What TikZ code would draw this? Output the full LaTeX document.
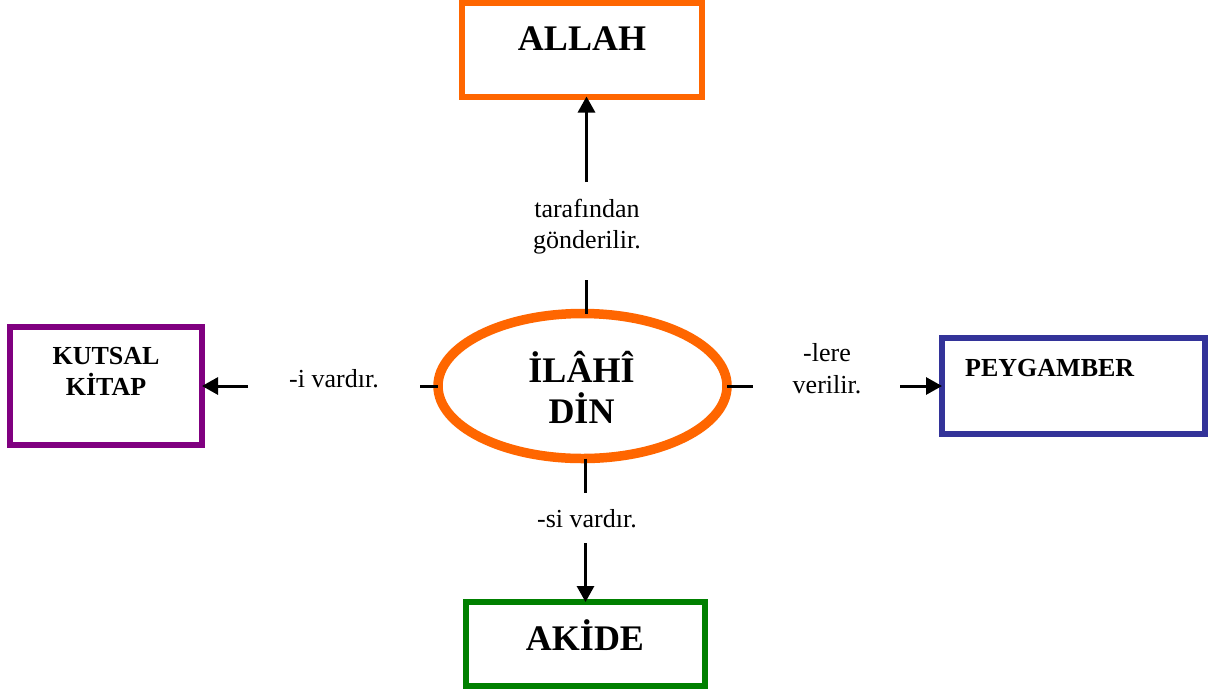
\documentclass[tikz,border=0pt]{standalone}
\usepackage{fontspec}
\setmainfont{Liberation Serif}
\usetikzlibrary{shapes.geometric,arrows.meta}
\definecolor{corange}{HTML}{FF6600}
\definecolor{cpurple}{HTML}{800080}
\definecolor{cblue}{HTML}{333399}
\definecolor{cgreen}{HTML}{008000}
\tikzset{
  boxshape/.style={draw, rectangle, line width=6pt, outer sep=0pt, inner sep=0pt},
  bigtxt/.style={inner sep=0pt, anchor=base, font=\fontsize{36}{40}\selectfont\bfseries},
  midtxt/.style={inner sep=0pt, anchor=base, font=\fontsize{26}{30}\selectfont\bfseries},
  lbltxt/.style={inner sep=0pt, anchor=base, font=\fontsize{26}{30}\selectfont},
  conn/.style={line width=3pt},
  arr/.style={line width=3pt, -{Triangle[length=16pt,width=17pt]}}
}
\begin{document}
\begin{tikzpicture}[x=1pt,y=-1pt]
\useasboundingbox (0,0) rectangle (1214,694);
% boxes
\node[boxshape, draw=corange, minimum width=240pt, minimum height=93.5pt] (allah) at (581.5,49.75) {};
\node[boxshape, draw=cpurple, minimum width=192pt, minimum height=118pt] (kutsal) at (106,386) {};
\node[boxshape, draw=cblue, minimum width=263pt, minimum height=96pt] (peyg) at (1073.5,386) {};
\node[boxshape, draw=cgreen, minimum width=239pt, minimum height=84pt] (akide) at (585.5,644) {};
\node[draw=corange, ellipse, line width=9.5pt, minimum width=289pt, minimum height=145pt, inner sep=0pt, outer sep=0pt] (ilahi) at (582.5,386) {};
% texts
\node[bigtxt] (tallah) at (582,50) {ALLAH};
\node[bigtxt] (tilahi1) at (581.5,382) {İLÂHÎ};
\node[bigtxt] (tilahi2) at (581.5,423) {DİN};
\node[bigtxt] (takide) at (585,650) {AKİDE};
\node[midtxt] (tkutsal1) at (106,364) {KUTSAL};
\node[midtxt] (tkutsal2) at (106,395) {KİTAP};
\node[midtxt, anchor=base west] (tpeyg) at (965,376) {PEYGAMBER};
\node[lbltxt] (lup1) at (587,217) {tarafından};
\node[lbltxt] (lup2) at (587,248) {gönderilir.};
\node[lbltxt] (lleft) at (334,387) {-i vardır.};
\node[lbltxt] (lright1) at (827,361) {-lere};
\node[lbltxt] (lright2) at (827,393) {verilir.};
\node[lbltxt] (ldown) at (587,527) {-si vardır.};
% coordinates
\coordinate (cup) at (586.5,280);
\coordinate (aup) at (586.5,182);
\coordinate (cleft) at (420,386);
\coordinate (aleft) at (248,386);
\coordinate (cright) at (753,386);
\coordinate (aright) at (900,386);
\coordinate (cdown) at (585.5,493);
\coordinate (adown) at (585.5,543);
% connectors
\draw[conn] (cup) -- (cup |- ilahi.north);
\draw[arr] (aup) -- (aup |- allah.south);
\draw[conn] (cleft) -- (cleft -| ilahi.west);
\draw[arr] (aleft) -- (aleft -| kutsal.east);
\draw[conn] (cright -| ilahi.east) -- (cright);
\draw[arr] (aright) -- (aright -| peyg.west);
\draw[conn] (cdown |- ilahi.south) -- (cdown);
\draw[arr] (adown) -- (adown |- akide.north);
\end{tikzpicture}
\end{document}
